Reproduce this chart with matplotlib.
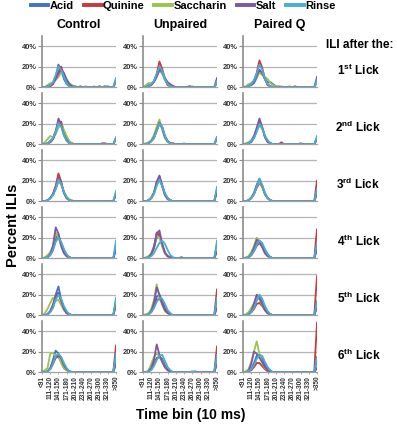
import matplotlib
matplotlib.use("Agg")
import matplotlib.pyplot as plt
from matplotlib.lines import Line2D

plt.rcParams['font.family'] = ['Liberation Sans', 'DejaVu Sans']
plt.rcParams['mathtext.fontset'] = 'custom'
plt.rcParams['mathtext.bf'] = 'Liberation Sans:bold'
plt.rcParams['mathtext.rm'] = 'Liberation Sans'

# time bins (10 ms), 28 categories
bins = ['<91', '91-100', '101-110', '111-120', '121-130', '131-140', '141-150',
        '151-160', '161-170', '171-180', '181-190', '191-200', '201-210', '211-220',
        '221-230', '231-240', '241-250', '251-260', '261-270', '271-280', '281-290',
        '291-300', '301-310', '311-320', '321-330', '331-340', '341-350', '>350']
shown_ticks = ['<91', '111-120', '141-150', '171-180', '201-210', '231-240',
               '261-270', '291-300', '321-330', '>350']

groups = ['Control', 'Unpaired', 'Paired Q']
tastants = ['Acid', 'Quinine', 'Saccharin', 'Salt', 'Rinse']
colors = ['#4472C4', '#C8393B', '#9BC34E', '#7F55A5', '#45AED3']
licks = ['1', '2', '3', '4', '5', '6']
suffix = ['st', 'nd', 'rd', 'th', 'th', 'th']

# percent ILIs, one row per lick (1st..6th), 28 bins each
control_acid = [
    [0,0,1,2,4,10,22,17,8,3,1,1,0,0,0,0,0,0,0,0,0,0,0,0,1,0,0,8],
    [0,0,1,3,6,13,22,18,9,4,1,0,0,0,0,0,0,0,0,0,0,0,0,0,0,0,0,6],
    [0,0,1,3,6,12,20,17,9,4,1,0,0,0,0,0,0,0,0,0,0,0,0,0,0,0,0,8],
    [0,0,1,4,10,20,23,14,6,2,1,0,0,0,0,0,0,0,0,0,0,0,0,0,0,0,0,12],
    [0,0,1,4,10,20,28,15,6,2,1,0,0,0,0,0,0,0,0,0,0,0,0,0,0,0,0,14],
    [0,0,1,4,12,21,18,13,6,3,1,0,0,0,0,0,0,0,0,0,0,0,0,0,0,0,0,17]]
control_quinine = [
    [0,0,0,1,3,8,15,20,12,5,2,1,1,0,1,0,0,0,0,0,0,1,0,1,0,0,0,6],
    [0,0,1,2,5,11,20,22,12,5,2,1,0,0,0,0,0,0,0,0,0,0,1,1,0,0,0,5],
    [0,0,1,3,7,15,27,19,8,3,1,0,0,0,0,0,0,0,0,0,0,0,0,0,0,0,0,7],
    [0,0,1,3,8,17,20,15,8,3,1,0,0,0,0,0,0,0,0,0,0,0,0,0,0,0,0,10],
    [0,0,1,3,8,17,20,14,7,3,1,0,0,0,0,0,0,0,0,0,0,0,0,0,0,0,0,12],
    [0,0,1,3,8,14,15,10,4,2,1,0,0,0,0,0,0,0,0,0,0,0,0,0,0,0,0,26]]
control_saccharin = [
    [0,0,2,4,4,7,10,14,13,8,4,2,1,0,0,0,1,0,0,1,0,0,0,0,0,0,0,5],
    [0,2,5,8,7,10,16,20,14,8,3,1,0,0,0,0,0,0,0,0,0,0,0,0,0,0,0,5],
    [0,0,1,3,6,12,19,16,9,4,2,1,0,0,0,0,0,0,0,0,0,0,0,0,0,0,0,7],
    [0,1,3,6,12,25,20,12,5,2,1,0,0,0,0,0,0,0,0,0,0,0,0,0,0,0,0,9],
    [0,2,6,12,17,14,15,10,5,2,1,0,0,0,0,0,0,0,0,0,0,0,0,0,0,0,0,9],
    [0,2,4,18,19,15,16,9,4,2,1,0,0,0,0,0,0,0,0,0,0,0,0,0,0,0,0,10]]
control_salt = [
    [0,0,1,2,4,8,13,17,14,7,3,1,0,0,0,0,0,0,0,0,0,0,0,0,0,0,0,6],
    [0,0,1,2,5,12,25,19,9,4,1,0,0,0,0,0,0,0,0,0,0,0,0,0,0,0,0,6],
    [0,0,1,3,7,14,23,18,8,3,1,0,0,0,0,0,0,0,0,0,0,0,0,0,0,0,0,7],
    [0,0,1,4,12,30,24,12,5,2,1,0,0,0,0,0,0,0,0,0,0,0,0,0,0,0,0,8],
    [0,0,1,4,10,19,22,14,6,2,1,0,0,0,0,0,0,0,0,0,0,0,0,0,0,0,0,10],
    [0,0,1,4,10,15,16,14,7,3,1,0,0,0,0,0,0,0,0,0,0,0,0,0,0,0,0,8]]
control_rinse = [
    [0,0,1,2,5,12,20,17,10,4,1,0,0,0,0,0,0,0,0,0,0,0,0,1,0,0,0,9],
    [0,0,1,3,6,12,21,17,9,3,1,0,0,0,0,0,0,0,0,0,0,0,0,0,0,0,0,7],
    [0,0,1,3,6,12,21,17,9,4,1,0,0,0,0,0,0,0,0,0,0,0,0,0,0,0,0,10],
    [0,0,1,3,8,16,20,16,9,4,1,0,0,0,0,0,0,0,0,0,0,0,0,0,0,0,0,17],
    [0,0,1,3,7,15,20,16,9,4,1,0,0,0,0,0,0,0,0,0,0,0,0,0,0,0,0,17],
    [0,0,1,3,8,16,18,15,9,4,1,0,0,0,0,0,0,0,0,0,0,0,0,0,0,0,0,18]]

unpaired_acid = [
    [0,1,2,3,6,11,18,15,7,3,1,0,0,0,0,0,0,0,0,0,0,0,0,0,0,0,0,5],
    [0,0,1,3,7,14,20,16,7,3,1,0,0,0,0,0,0,0,0,0,0,0,0,0,0,0,0,6],
    [0,0,1,3,8,16,22,15,7,3,1,0,0,0,0,0,0,0,0,0,0,0,0,0,0,0,0,11],
    [0,0,1,4,10,20,24,14,6,2,1,0,0,0,0,0,0,0,0,0,0,0,0,0,0,0,0,12],
    [0,0,1,4,9,18,20,14,7,3,1,0,0,0,0,0,0,0,0,0,0,0,0,0,0,0,0,14],
    [0,0,1,3,8,14,15,13,7,3,1,0,0,0,0,0,0,0,0,1,0,0,0,0,0,0,0,15]]
unpaired_quinine = [
    [0,0,1,3,6,13,25,18,8,2,1,1,0,0,0,0,0,1,0,0,0,0,0,0,0,0,0,4],
    [0,0,1,3,6,13,21,17,8,3,1,1,0,0,0,0,0,0,0,0,0,0,0,0,0,0,0,5],
    [0,0,1,3,8,18,24,16,7,3,1,0,0,0,0,0,0,0,0,0,0,0,0,0,0,0,0,12],
    [0,0,1,4,10,25,22,12,5,2,1,0,0,0,0,0,0,0,0,0,0,0,0,0,0,0,0,13],
    [0,0,1,3,8,15,16,12,6,3,1,0,0,0,0,0,0,0,0,0,0,0,0,0,0,0,0,25],
    [0,0,1,3,7,13,15,11,5,2,1,0,0,0,0,0,0,0,0,0,0,0,0,0,0,0,0,25]]
unpaired_saccharin = [
    [0,2,4,4,6,12,16,13,7,4,2,1,0,0,0,0,0,0,1,0,0,0,0,0,0,0,0,5],
    [0,1,2,4,9,17,24,14,6,2,1,0,0,0,0,1,0,0,0,0,0,0,0,0,0,0,0,6],
    [0,0,1,4,9,18,22,14,6,2,1,0,0,0,0,0,0,0,0,0,0,0,0,0,0,0,0,10],
    [0,1,2,5,12,22,20,12,5,2,1,0,0,0,1,0,0,0,0,0,0,0,0,0,0,0,0,10],
    [0,1,2,6,15,30,18,10,4,2,1,0,0,0,0,0,0,0,0,0,0,0,0,0,0,0,0,9],
    [0,0,2,8,15,18,16,11,5,2,1,0,0,0,0,0,0,0,0,0,0,0,0,0,0,0,0,10]]
unpaired_salt = [
    [0,0,1,2,5,10,17,15,9,5,3,1,0,0,0,0,0,1,0,0,0,0,0,0,0,0,0,9],
    [0,0,1,3,7,14,21,16,7,3,1,0,0,0,0,0,0,0,0,0,0,0,0,0,0,0,0,7],
    [0,0,1,3,8,19,25,15,6,2,1,0,0,0,0,0,0,0,0,0,0,0,0,0,0,0,0,9],
    [0,0,1,4,11,24,27,14,5,2,1,0,0,0,1,0,0,0,0,0,0,0,0,0,0,0,0,6],
    [0,0,1,4,12,27,20,11,5,2,1,0,0,0,0,0,0,0,0,0,0,0,0,0,0,0,0,7],
    [0,0,1,4,12,27,17,10,5,2,1,0,0,0,0,0,0,0,0,0,0,0,0,0,0,0,0,8]]
unpaired_rinse = [
    [0,0,1,3,6,13,20,16,8,3,1,0,0,0,0,0,0,0,0,0,0,0,0,0,0,0,0,6],
    [0,0,1,3,6,13,20,17,8,3,1,0,0,0,0,0,0,0,0,0,0,0,0,0,0,0,0,7],
    [0,0,1,3,7,15,21,15,8,3,1,0,0,0,0,0,0,0,0,0,0,0,0,0,0,0,0,14],
    [0,0,1,2,5,10,15,17,14,8,3,1,0,0,0,0,0,0,0,0,0,0,0,0,0,0,0,17],
    [0,0,1,3,7,13,17,16,11,5,2,0,0,0,0,0,0,0,0,0,0,0,0,0,0,0,0,17],
    [0,0,1,2,6,12,16,17,11,5,2,0,0,0,0,0,0,0,1,0,0,0,0,0,0,0,0,17]]

pairedq_acid = [
    [0,0,1,2,4,9,16,14,8,5,5,3,1,0,0,0,0,0,0,0,0,0,0,0,0,0,0,6],
    [0,0,1,2,6,13,19,16,8,3,1,0,0,0,0,0,0,0,0,0,0,0,0,0,0,0,0,6],
    [0,0,1,3,7,14,20,15,8,3,1,0,0,0,0,0,0,0,0,0,0,0,0,0,0,0,0,8],
    [0,0,1,3,8,14,17,14,8,4,1,0,0,0,0,0,0,0,0,0,0,0,0,0,0,0,0,12],
    [0,0,1,3,8,15,18,14,8,3,1,0,0,0,0,0,0,0,0,0,0,0,0,0,0,0,0,12],
    [0,0,1,3,9,16,17,13,7,3,1,0,0,0,0,0,0,0,0,0,0,0,0,0,0,0,0,12]]
pairedq_quinine = [
    [0,0,1,3,6,14,26,19,8,2,1,0,0,1,0,0,0,0,0,1,0,0,0,0,0,0,0,5],
    [0,0,1,3,7,14,21,16,7,3,1,0,0,0,2,0,0,0,0,0,0,1,0,0,0,0,0,5],
    [0,0,1,3,7,13,18,14,7,3,1,0,0,0,0,0,0,0,0,0,0,0,0,0,0,0,0,20],
    [0,0,1,3,7,12,15,11,6,3,1,0,0,0,0,0,0,0,0,0,0,0,0,0,0,0,0,28],
    [0,0,1,3,6,11,12,9,5,2,1,0,0,0,0,0,0,0,0,0,0,0,0,0,0,0,0,38],
    [0,0,1,2,5,9,9,6,3,1,1,0,0,0,0,0,0,0,0,0,0,0,0,0,0,0,0,48]]
pairedq_saccharin = [
    [0,1,3,4,6,10,14,12,10,8,4,2,1,0,1,0,0,1,0,0,0,0,0,0,0,0,0,5],
    [0,1,2,4,8,14,18,15,8,3,1,0,0,0,0,0,0,0,0,0,0,0,0,0,0,0,0,5],
    [0,0,1,4,8,15,19,14,7,3,1,0,0,0,0,0,0,0,0,0,0,0,0,0,0,0,0,7],
    [0,1,2,6,12,20,17,11,5,2,1,0,0,0,0,0,0,0,0,0,0,0,0,0,0,0,0,9],
    [0,1,3,7,12,18,15,10,5,2,1,0,0,0,0,0,0,0,0,0,0,0,0,0,0,0,0,10],
    [0,1,3,10,20,30,18,9,4,2,1,0,0,0,0,0,0,0,0,0,0,0,0,0,0,0,0,5]]
pairedq_salt = [
    [0,0,1,3,6,11,17,14,8,3,1,0,0,0,0,0,0,0,0,0,0,0,0,0,0,0,0,10],
    [0,0,1,3,8,16,25,17,7,2,1,0,0,0,0,0,0,0,0,0,0,0,0,0,0,0,0,6],
    [0,0,1,3,8,16,22,15,7,3,1,0,0,0,0,0,0,0,0,0,0,0,0,0,0,0,0,8],
    [0,0,1,4,10,18,16,11,5,2,1,0,0,0,0,0,0,0,0,0,0,0,0,0,0,0,0,8],
    [0,0,1,4,11,20,17,11,5,2,1,0,0,0,0,0,0,0,0,0,0,0,0,0,0,0,0,7],
    [0,0,1,8,20,18,14,10,5,2,1,0,0,0,0,0,0,0,0,0,0,0,0,0,0,0,0,4]]
pairedq_rinse = [
    [0,0,1,3,7,13,22,17,8,3,1,0,0,0,0,0,0,0,0,0,0,0,0,0,0,0,0,7],
    [0,0,1,3,6,12,20,16,8,4,1,0,0,0,0,0,0,0,0,0,0,0,0,0,0,0,0,8],
    [0,0,1,3,7,14,22,16,8,3,1,0,0,0,0,0,0,0,0,0,0,0,0,0,0,0,0,12],
    [0,0,1,3,7,13,17,15,9,4,1,0,0,0,0,0,0,0,0,0,0,0,0,0,0,0,0,15],
    [0,0,1,3,7,14,20,16,9,4,1,0,0,0,0,0,0,0,0,0,0,0,0,0,0,0,0,14],
    [0,0,1,3,7,13,17,16,10,5,2,0,0,0,0,0,0,0,0,0,0,0,0,0,0,0,0,15]]

data = {
    'Control': [control_acid, control_quinine, control_saccharin, control_salt, control_rinse],
    'Unpaired': [unpaired_acid, unpaired_quinine, unpaired_saccharin, unpaired_salt, unpaired_rinse],
    'Paired Q': [pairedq_acid, pairedq_quinine, pairedq_saccharin, pairedq_salt, pairedq_rinse],
}

W, H = 397, 429
fig = plt.figure(figsize=(W / 100, H / 100), dpi=100)

col_left = [42, 143, 243]
ax_w = 74
row_top0 = 35.7
row_step = 57
ax_h = 51.6
x = list(range(len(bins)))

for c, g in enumerate(groups):
    for r in range(6):
        top = row_top0 + r * row_step
        ax = fig.add_axes([col_left[c] / W, 1 - (top + ax_h) / H, ax_w / W, ax_h / H])
        for k in range(5):
            ax.plot(x, data[g][k][r], color=colors[k], lw=1.3)
        ax.set_xlim(0, len(bins) - 1)
        ax.set_ylim(0, 50)
        ax.set_yticks([0, 20, 40])
        ax.set_yticklabels(['0%', '20%', '40%'])
        for yy in [20, 40]:
            ax.axhline(yy, color='#b4b4b4', lw=0.9, zorder=0)
        for s in ['top', 'right']:
            ax.spines[s].set_visible(False)
        ax.spines['left'].set_color('#8c8c8c')
        ax.spines['left'].set_linewidth(1.2)
        ax.spines['bottom'].set_color('#a0a0a0')
        ax.spines['bottom'].set_linewidth(0.9)
        ax.tick_params(axis='y', length=3, width=0.8, color='#8c8c8c', pad=1,
                       labelsize=5.4)
        for t in ax.get_yticklabels():
            t.set_fontweight('bold')
            t.set_color('#333333')
        if r == 5:
            ax.set_xticks([bins.index(b) for b in shown_ticks])
            ax.set_xticklabels(shown_ticks, rotation=90, fontsize=4.7,
                               fontweight='bold', color='#333333')
            ax.tick_params(axis='x', length=1.5, width=0.6, color='#a0a0a0', pad=1)
        else:
            ax.set_xticks([])
        if c == 2:
            ax.text(1.56, 0.32, licks[r] + r'$^{\bf ' + suffix[r] + '}$ Lick',
                    transform=ax.transAxes, ha='center', va='center',
                    fontsize=8.5, fontweight='bold')

# column titles
for c, g in enumerate(groups):
    fig.text((col_left[c] + ax_w / 2) / W, 1 - 25 / H, g, ha='center', va='center',
             fontsize=9, fontweight='bold')

fig.text(360 / W, 1 - 45 / H, 'ILI after the:', ha='center', va='center',
         fontsize=8.5, fontweight='bold')

fig.text(13 / W, 1 - 225 / H, 'Percent ILIs', rotation=90, ha='center', va='center',
         fontsize=10.5, fontweight='bold')
fig.text(191 / W, 1 - 415 / H, 'Time bin (10 ms)', ha='center', va='center',
         fontsize=10, fontweight='bold')

handles = [Line2D([], [], color=colors[k], lw=2.8) for k in range(5)]
fig.legend(handles, tastants, loc='center', bbox_to_anchor=(183 / W, 1 - 6 / H),
           ncol=5, frameon=False, handlelength=1.6, handletextpad=0.1,
           columnspacing=0.9, prop={'weight': 'bold', 'size': 8})

fig.savefig('out.png', dpi=100)
